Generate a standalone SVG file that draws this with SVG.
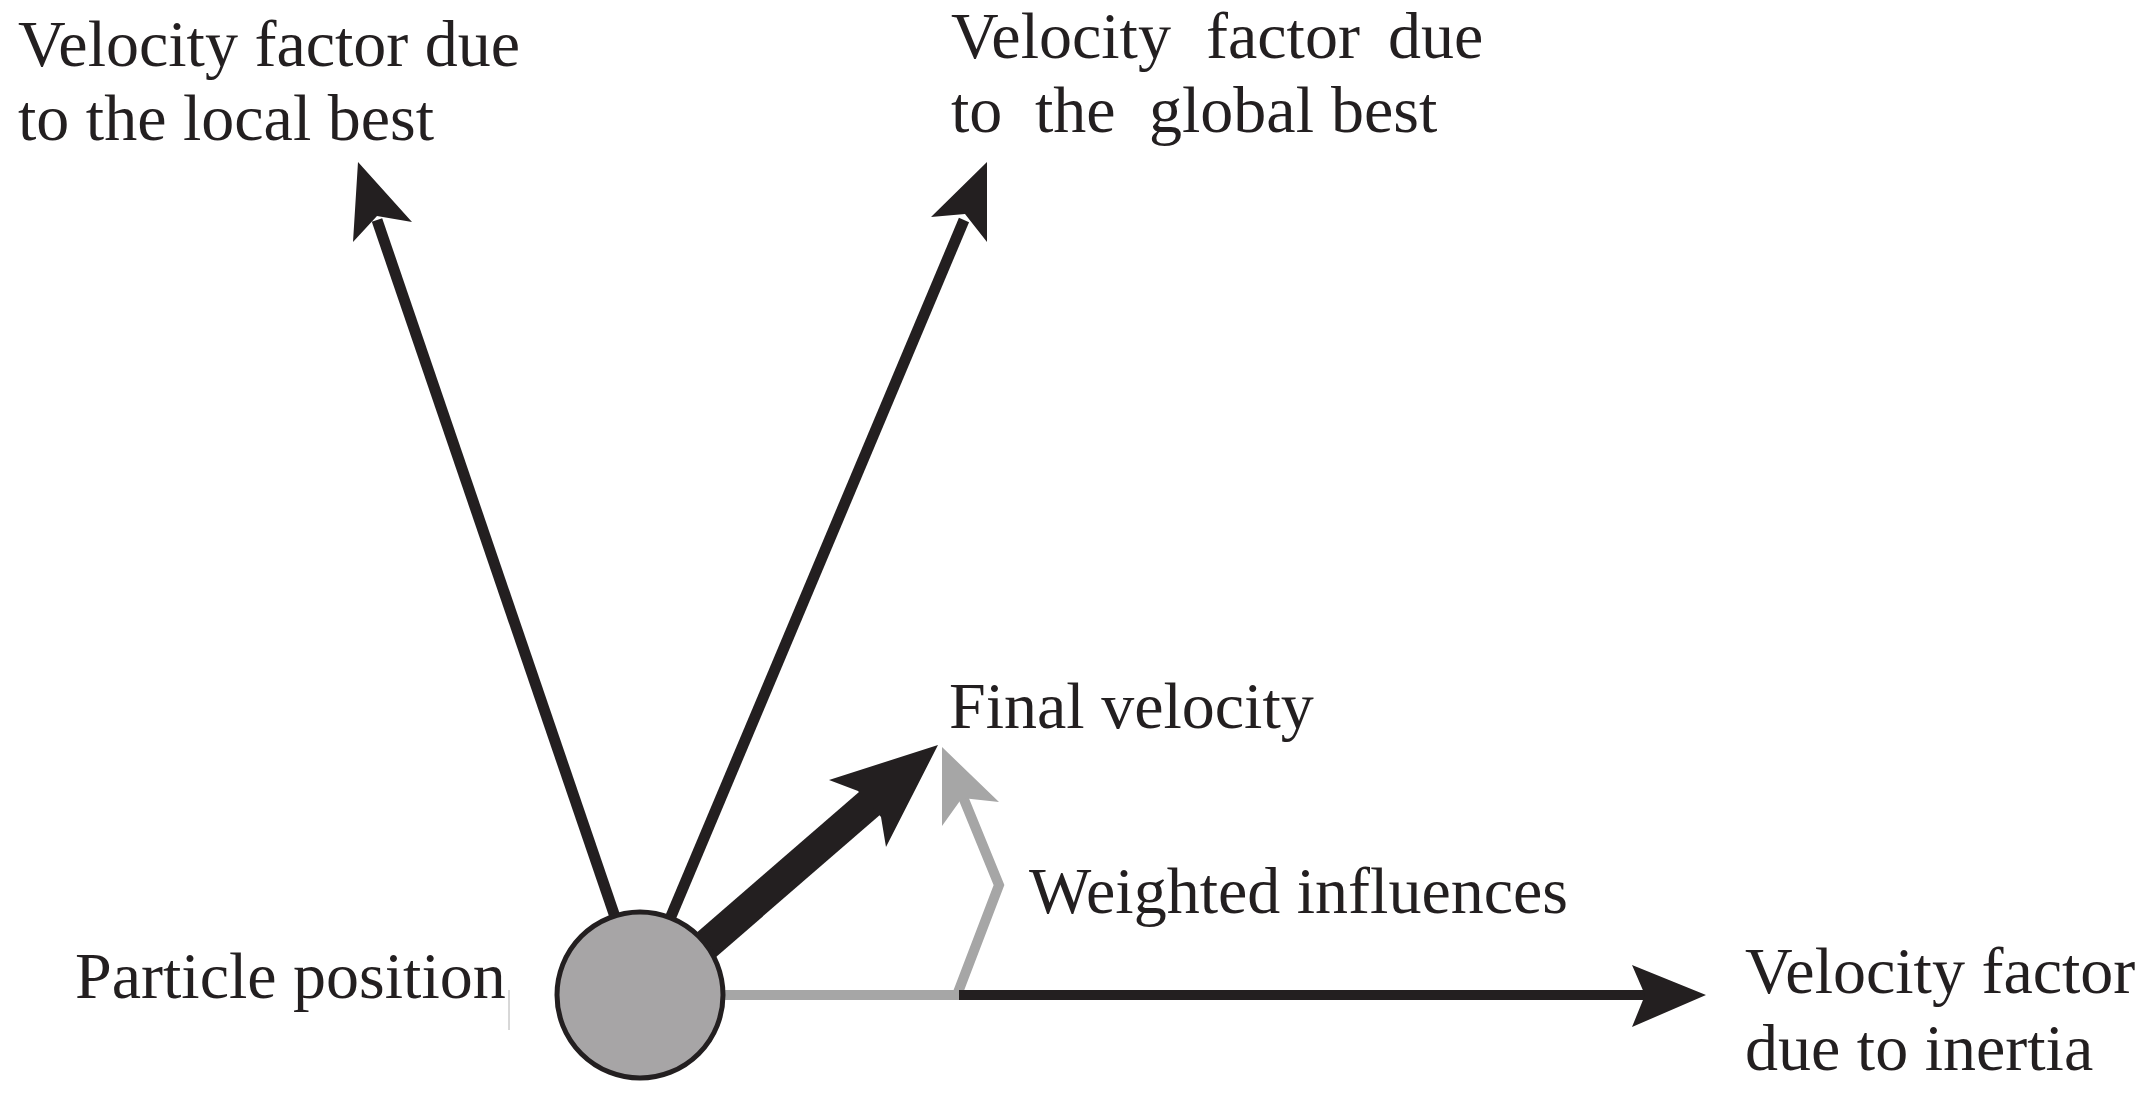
<svg xmlns="http://www.w3.org/2000/svg" width="2156" height="1093" viewBox="0 0 2156 1093">
<style>
text{font-family:"Liberation Serif","Times New Roman",serif;font-size:66px;fill:#231f20}
.blk{stroke:#231f20;fill:none;stroke-linecap:butt}
.hb{fill:#231f20;stroke:none}
.gr{stroke:#a6a6a6;fill:none;stroke-linejoin:miter}
.hg{fill:#a6a6a6;stroke:none}
</style>
<rect width="2156" height="1093" fill="#ffffff"/>
<g id="connectors">
<line class="blk" x1="640" y1="990" x2="377" y2="220" stroke-width="11"/>
<polygon class="hb" points="358,162 412,222 377,216 353,242"/>
<line class="blk" x1="640" y1="990" x2="964" y2="220" stroke-width="11"/>
<polygon class="hb" points="987,162 987,242 965,214 931,217"/>
<line class="blk" x1="660" y1="985" x2="870" y2="803" stroke-width="31"/>
<polygon class="hb" points="938,745 886,847 881,817 858,791 829,780"/>
<polyline class="gr" points="700,995 957,995 999,885 963,797" stroke-width="10"/>
<polygon class="hg" points="942,747 999,802 962,798 942,826"/>
<line class="blk" x1="959" y1="995" x2="1648" y2="995" stroke-width="10"/>
<polygon class="hb" points="1706,995 1632,1027 1645,995 1632,965"/>
</g>
<g id="particle">
<circle cx="640" cy="995" r="83" fill="#a7a5a6" stroke="#231f20" stroke-width="5"/>
</g>
<g id="label-particle">
<text x="75" y="998">Particle position</text>
<line x1="509" y1="990" x2="509" y2="1030" stroke="#b0b0b0" stroke-width="1"/>
</g>
<g id="label-local">
<text x="18" y="66">Velocity factor due</text>
<text x="18" y="140">to the local best</text>
</g>
<g id="label-global">
<text y="58"><tspan x="951">Velocity</tspan><tspan x="1206">factor</tspan><tspan x="1388">due</tspan></text>
<text y="132"><tspan x="951">to</tspan><tspan x="1035">the</tspan><tspan x="1149">global</tspan><tspan x="1331">best</tspan></text>
</g>
<g id="label-final">
<text x="949" y="728">Final velocity</text>
</g>
<g id="label-weighted">
<text x="1029" y="913">Weighted influences</text>
</g>
<g id="label-inertia">
<text x="1745" y="993">Velocity factor</text>
<text x="1745" y="1070">due to inertia</text>
</g>
</svg>
